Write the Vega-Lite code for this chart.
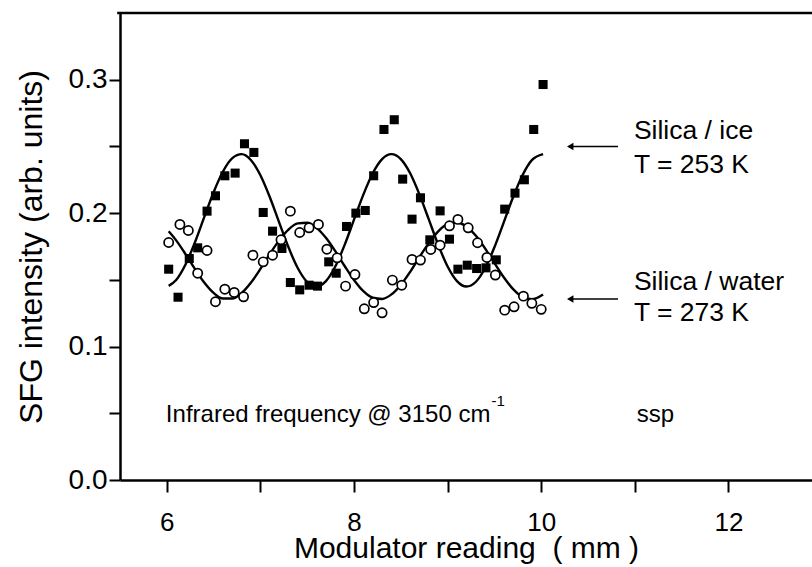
{
  "$schema": "https://vega.github.io/schema/vega-lite/v6.json",
  "width": 692,
  "height": 467,
  "autosize": {"type": "none"},
  "padding": {"left": 120, "top": 13, "right": 0, "bottom": 87},
  "background": "white",
  "config": {
    "view": {"stroke": null},
    "font": "Liberation Sans",
    "axis": {"grid": false, "domainColor": "black", "domainWidth": 2.5, "tickColor": "black", "tickWidth": 2, "labelColor": "black", "titleColor": "black", "labelFont": "Liberation Sans", "titleFont": "Liberation Sans", "labelFontSize": 28, "titleFontWeight": "normal"}
  },
  "datasets": {
    "points": [
      {"x": 6.02, "y": 0.158, "sample": "ice"}, {"x": 6.12, "y": 0.137, "sample": "ice"}, {"x": 6.24, "y": 0.166, "sample": "ice"}, {"x": 6.33, "y": 0.174, "sample": "ice"}, {"x": 6.43, "y": 0.2015, "sample": "ice"}, {"x": 6.52, "y": 0.213, "sample": "ice"}, {"x": 6.62, "y": 0.228, "sample": "ice"}, {"x": 6.73, "y": 0.23, "sample": "ice"}, {"x": 6.83, "y": 0.252, "sample": "ice"}, {"x": 6.93, "y": 0.2455, "sample": "ice"}, {"x": 7.03, "y": 0.2005, "sample": "ice"}, {"x": 7.13, "y": 0.1865, "sample": "ice"}, {"x": 7.23, "y": 0.1735, "sample": "ice"}, {"x": 7.32, "y": 0.148, "sample": "ice"}, {"x": 7.42, "y": 0.1425, "sample": "ice"}, {"x": 7.52, "y": 0.146, "sample": "ice"}, {"x": 7.61, "y": 0.1453, "sample": "ice"}, {"x": 7.73, "y": 0.1635, "sample": "ice"}, {"x": 7.81, "y": 0.155, "sample": "ice"}, {"x": 7.92, "y": 0.19, "sample": "ice"}, {"x": 8.02, "y": 0.2, "sample": "ice"}, {"x": 8.12, "y": 0.202, "sample": "ice"}, {"x": 8.21, "y": 0.228, "sample": "ice"}, {"x": 8.32, "y": 0.2627, "sample": "ice"}, {"x": 8.43, "y": 0.27, "sample": "ice"}, {"x": 8.52, "y": 0.2255, "sample": "ice"}, {"x": 8.62, "y": 0.1955, "sample": "ice"}, {"x": 8.71, "y": 0.2115, "sample": "ice"}, {"x": 8.81, "y": 0.18, "sample": "ice"}, {"x": 8.92, "y": 0.2017, "sample": "ice"}, {"x": 9.02, "y": 0.1805, "sample": "ice"}, {"x": 9.11, "y": 0.158, "sample": "ice"}, {"x": 9.21, "y": 0.161, "sample": "ice"}, {"x": 9.31, "y": 0.1585, "sample": "ice"}, {"x": 9.41, "y": 0.159, "sample": "ice"}, {"x": 9.52, "y": 0.165, "sample": "ice"}, {"x": 9.61, "y": 0.203, "sample": "ice"}, {"x": 9.72, "y": 0.215, "sample": "ice"}, {"x": 9.82, "y": 0.225, "sample": "ice"}, {"x": 9.92, "y": 0.2627, "sample": "ice"}, {"x": 10.02, "y": 0.2964, "sample": "ice"},
      {"x": 6.02, "y": 0.178, "sample": "water"}, {"x": 6.14, "y": 0.1915, "sample": "water"}, {"x": 6.23, "y": 0.187, "sample": "water"}, {"x": 6.33, "y": 0.155, "sample": "water"}, {"x": 6.43, "y": 0.172, "sample": "water"}, {"x": 6.52, "y": 0.1336, "sample": "water"}, {"x": 6.62, "y": 0.143, "sample": "water"}, {"x": 6.72, "y": 0.1406, "sample": "water"}, {"x": 6.82, "y": 0.1373, "sample": "water"}, {"x": 6.92, "y": 0.1685, "sample": "water"}, {"x": 7.03, "y": 0.1635, "sample": "water"}, {"x": 7.13, "y": 0.1685, "sample": "water"}, {"x": 7.22, "y": 0.18, "sample": "water"}, {"x": 7.32, "y": 0.2015, "sample": "water"}, {"x": 7.42, "y": 0.1855, "sample": "water"}, {"x": 7.52, "y": 0.189, "sample": "water"}, {"x": 7.62, "y": 0.1915, "sample": "water"}, {"x": 7.71, "y": 0.173, "sample": "water"}, {"x": 7.82, "y": 0.1665, "sample": "water"}, {"x": 7.91, "y": 0.1453, "sample": "water"}, {"x": 8.01, "y": 0.154, "sample": "water"}, {"x": 8.11, "y": 0.1283, "sample": "water"}, {"x": 8.21, "y": 0.133, "sample": "water"}, {"x": 8.3, "y": 0.1253, "sample": "water"}, {"x": 8.41, "y": 0.1498, "sample": "water"}, {"x": 8.51, "y": 0.146, "sample": "water"}, {"x": 8.62, "y": 0.1653, "sample": "water"}, {"x": 8.71, "y": 0.1648, "sample": "water"}, {"x": 8.82, "y": 0.1728, "sample": "water"}, {"x": 8.92, "y": 0.176, "sample": "water"}, {"x": 9.02, "y": 0.1905, "sample": "water"}, {"x": 9.11, "y": 0.1953, "sample": "water"}, {"x": 9.22, "y": 0.189, "sample": "water"}, {"x": 9.32, "y": 0.1778, "sample": "water"}, {"x": 9.42, "y": 0.1668, "sample": "water"}, {"x": 9.51, "y": 0.1536, "sample": "water"}, {"x": 9.61, "y": 0.1273, "sample": "water"}, {"x": 9.71, "y": 0.1298, "sample": "water"}, {"x": 9.81, "y": 0.1378, "sample": "water"}, {"x": 9.9, "y": 0.1324, "sample": "water"}, {"x": 10.0, "y": 0.1279, "sample": "water"}
    ],
    "fits": [
      {"x": 6.02, "y": 0.1455, "sample": "ice"}, {"x": 6.1, "y": 0.1499, "sample": "ice"}, {"x": 6.2, "y": 0.1615, "sample": "ice"}, {"x": 6.3, "y": 0.178, "sample": "ice"}, {"x": 6.4, "y": 0.197, "sample": "ice"}, {"x": 6.5, "y": 0.2157, "sample": "ice"}, {"x": 6.6, "y": 0.2312, "sample": "ice"}, {"x": 6.7, "y": 0.2412, "sample": "ice"}, {"x": 6.8, "y": 0.2442, "sample": "ice"}, {"x": 6.9, "y": 0.2397, "sample": "ice"}, {"x": 7.0, "y": 0.2284, "sample": "ice"}, {"x": 7.1, "y": 0.2121, "sample": "ice"}, {"x": 7.2, "y": 0.1931, "sample": "ice"}, {"x": 7.3, "y": 0.1744, "sample": "ice"}, {"x": 7.4, "y": 0.1587, "sample": "ice"}, {"x": 7.5, "y": 0.1484, "sample": "ice"}, {"x": 7.6, "y": 0.145, "sample": "ice"}, {"x": 7.7, "y": 0.1491, "sample": "ice"}, {"x": 7.8, "y": 0.16, "sample": "ice"}, {"x": 7.9, "y": 0.1762, "sample": "ice"}, {"x": 8.0, "y": 0.1951, "sample": "ice"}, {"x": 8.1, "y": 0.2139, "sample": "ice"}, {"x": 8.2, "y": 0.2299, "sample": "ice"}, {"x": 8.3, "y": 0.2405, "sample": "ice"}, {"x": 8.4, "y": 0.2442, "sample": "ice"}, {"x": 8.5, "y": 0.2405, "sample": "ice"}, {"x": 8.6, "y": 0.2299, "sample": "ice"}, {"x": 8.7, "y": 0.2139, "sample": "ice"}, {"x": 8.8, "y": 0.1951, "sample": "ice"}, {"x": 8.9, "y": 0.1762, "sample": "ice"}, {"x": 9.0, "y": 0.16, "sample": "ice"}, {"x": 9.1, "y": 0.1491, "sample": "ice"}, {"x": 9.2, "y": 0.145, "sample": "ice"}, {"x": 9.3, "y": 0.1484, "sample": "ice"}, {"x": 9.4, "y": 0.1587, "sample": "ice"}, {"x": 9.5, "y": 0.1744, "sample": "ice"}, {"x": 9.6, "y": 0.1931, "sample": "ice"}, {"x": 9.7, "y": 0.2121, "sample": "ice"}, {"x": 9.8, "y": 0.2284, "sample": "ice"}, {"x": 9.9, "y": 0.2397, "sample": "ice"}, {"x": 10.02, "y": 0.2442, "sample": "ice"},
      {"x": 6.02, "y": 0.1864, "sample": "water"}, {"x": 6.1, "y": 0.1796, "sample": "water"}, {"x": 6.2, "y": 0.1693, "sample": "water"}, {"x": 6.3, "y": 0.1582, "sample": "water"}, {"x": 6.4, "y": 0.148, "sample": "water"}, {"x": 6.5, "y": 0.1402, "sample": "water"}, {"x": 6.6, "y": 0.136, "sample": "water"}, {"x": 6.7, "y": 0.136, "sample": "water"}, {"x": 6.8, "y": 0.1402, "sample": "water"}, {"x": 6.9, "y": 0.148, "sample": "water"}, {"x": 7.0, "y": 0.1582, "sample": "water"}, {"x": 7.1, "y": 0.1693, "sample": "water"}, {"x": 7.2, "y": 0.1796, "sample": "water"}, {"x": 7.3, "y": 0.1877, "sample": "water"}, {"x": 7.4, "y": 0.1923, "sample": "water"}, {"x": 7.5, "y": 0.1928, "sample": "water"}, {"x": 7.6, "y": 0.189, "sample": "water"}, {"x": 7.7, "y": 0.1815, "sample": "water"}, {"x": 7.8, "y": 0.1715, "sample": "water"}, {"x": 7.9, "y": 0.1604, "sample": "water"}, {"x": 8.0, "y": 0.1499, "sample": "water"}, {"x": 8.1, "y": 0.1415, "sample": "water"}, {"x": 8.2, "y": 0.1366, "sample": "water"}, {"x": 8.3, "y": 0.1357, "sample": "water"}, {"x": 8.4, "y": 0.1391, "sample": "water"}, {"x": 8.5, "y": 0.1462, "sample": "water"}, {"x": 8.6, "y": 0.156, "sample": "water"}, {"x": 8.7, "y": 0.1671, "sample": "water"}, {"x": 8.8, "y": 0.1777, "sample": "water"}, {"x": 8.9, "y": 0.1864, "sample": "water"}, {"x": 9.0, "y": 0.1917, "sample": "water"}, {"x": 9.1, "y": 0.193, "sample": "water"}, {"x": 9.2, "y": 0.19, "sample": "water"}, {"x": 9.3, "y": 0.1832, "sample": "water"}, {"x": 9.4, "y": 0.1736, "sample": "water"}, {"x": 9.5, "y": 0.1626, "sample": "water"}, {"x": 9.6, "y": 0.1519, "sample": "water"}, {"x": 9.7, "y": 0.143, "sample": "water"}, {"x": 9.8, "y": 0.1372, "sample": "water"}, {"x": 9.9, "y": 0.1355, "sample": "water"}, {"x": 10.02, "y": 0.1391, "sample": "water"}
    ],
    "arrows": [
      {"x": 10.31, "x2": 10.82, "y": 0.25},
      {"x": 10.31, "x2": 10.82, "y": 0.1356}
    ],
    "legendText": [
      {"x": 10.99, "y": 0.2614, "text": "Silica / ice"},
      {"x": 10.99, "y": 0.236, "text": "T = 253 K"},
      {"x": 10.99, "y": 0.1483, "text": "Silica / water"},
      {"x": 10.99, "y": 0.125, "text": "T = 273 K"}
    ],
    "noteText": [
      {"x": 5.99, "y": 0.0487, "text": "Infrared frequency @ 3150 cm"},
      {"x": 11.02, "y": 0.0487, "text": "ssp"}
    ],
    "supText": [
      {"x": 9.47, "y": 0.059, "text": "-1"}
    ],
    "frame": [
      {"x": 5.47, "x2": 12.95, "y": 0.35}
    ]
  },
  "encoding": {
    "x": {
      "field": "x", "type": "quantitative",
      "scale": {"domain": [5.5, 12.893], "nice": false, "zero": false},
      "axis": {
        "title": "Modulator reading \u00a0( mm )",
        "titleFontSize": 30,
        "values": [6, 7, 8, 9, 10, 11, 12],
        "labelExpr": "datum.value % 2 == 0 ? format(datum.value, 'd') : ''",
        "labelFontSize": 26,
        "tickSize": 12,
        "encode": {"ticks": {"update": {"y2": {"signal": "datum.value % 2 == 0 ? -12 : -7"}}}},
        "labelPadding": 17,
        "titlePadding": -2
      }
    },
    "y": {
      "field": "y", "type": "quantitative",
      "scale": {"domain": [0, 0.35], "nice": false, "zero": true},
      "axis": {
        "title": "SFG intensity (arb. units)",
        "titleFontSize": 32,
        "values": [0, 0.05, 0.1, 0.15, 0.2, 0.25, 0.3],
        "labelExpr": "abs(datum.value * 10 - round(datum.value * 10)) < 0.001 ? format(datum.value, '.1f') : ''",
        "tickSize": 11,
        "encode": {"ticks": {"update": {"x2": {"signal": "abs(datum.value * 10 - round(datum.value * 10)) < 0.001 ? -11 : -7"}}}},
        "labelPadding": 2,
        "titlePadding": 20
      }
    }
  },
  "layer": [
    {
      "data": {"name": "frame"},
      "mark": {"type": "rule", "color": "black", "strokeWidth": 2.5, "clip": false},
      "encoding": {"x2": {"field": "x2"}}
    },
    {
      "data": {"name": "fits"},
      "mark": {"type": "line", "color": "black", "strokeWidth": 2.4, "interpolate": "monotone"},
      "encoding": {"detail": {"field": "sample"}}
    },
    {
      "data": {"name": "points"},
      "transform": [{"filter": "datum.sample == 'ice'"}],
      "mark": {"type": "point", "shape": "square", "filled": true, "color": "black", "size": 82, "opacity": 1}
    },
    {
      "data": {"name": "points"},
      "transform": [{"filter": "datum.sample == 'water'"}],
      "mark": {"type": "point", "shape": "circle", "filled": false, "fill": "white", "fillOpacity": 1, "stroke": "black", "strokeWidth": 1.7, "size": 85, "opacity": 1}
    },
    {
      "data": {"name": "arrows"},
      "mark": {"type": "rule", "color": "black", "strokeWidth": 1.6},
      "encoding": {"x2": {"field": "x2"}}
    },
    {
      "data": {"name": "arrows"},
      "mark": {"type": "point", "shape": "triangle-left", "filled": true, "color": "black", "size": 55, "opacity": 1}
    },
    {
      "data": {"name": "legendText"},
      "mark": {"type": "text", "align": "left", "baseline": "middle", "fontSize": 26.5, "font": "Liberation Sans", "color": "black"},
      "encoding": {"text": {"field": "text"}}
    },
    {
      "data": {"name": "noteText"},
      "mark": {"type": "text", "align": "left", "baseline": "middle", "fontSize": 24, "font": "Liberation Sans", "color": "black"},
      "encoding": {"text": {"field": "text"}}
    },
    {
      "data": {"name": "supText"},
      "mark": {"type": "text", "align": "left", "baseline": "middle", "fontSize": 15, "font": "Liberation Sans", "color": "black"},
      "encoding": {"text": {"field": "text"}}
    }
  ]
}
